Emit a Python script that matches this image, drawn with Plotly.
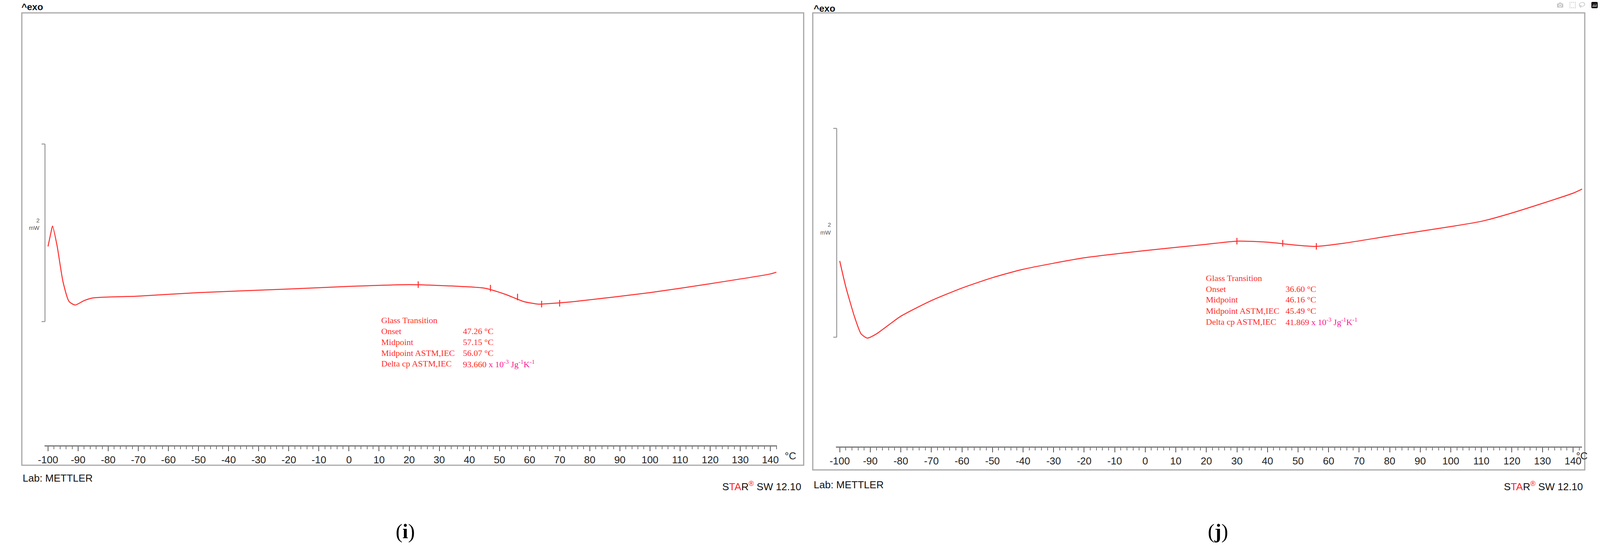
import plotly.graph_objects as go

W, H = 4193, 1422
RED = "#ff2a2a"
PINK = "#ff1493"

# Left panel (i) data: temperature (°C) vs heat flow (mW, arbitrary offset)
temp_i = [-100, -99, -98.5, -97, -95, -93, -91, -88, -85, -70, -50, -20, 0, 20, 30, 45, 52, 58, 63, 68, 75, 100, 120, 140, 142]
flow_i = [2.24, 2.40, 2.47, 2.25, 1.84, 1.62, 1.58, 1.63, 1.66, 1.68, 1.72, 1.76, 1.79, 1.81, 1.80, 1.77, 1.70, 1.62, 1.59, 1.60, 1.62, 1.72, 1.82, 1.93, 1.95]
mark_t_i = [23, 47, 56, 64, 70]
mark_f_i = [1.81, 1.77, 1.67, 1.59, 1.60]

# Right panel (j) data
temp_j = [-100, -98, -95, -93, -91, -88, -80, -70, -60, -50, -40, -20, 0, 20, 30, 40, 50, 56, 65, 80, 100, 110, 120, 140, 143]
flow_j = [1.78, 1.53, 1.23, 1.08, 1.04, 1.08, 1.25, 1.40, 1.52, 1.62, 1.70, 1.81, 1.88, 1.94, 1.97, 1.96, 1.93, 1.92, 1.95, 2.02, 2.11, 2.16, 2.24, 2.43, 2.47]
mark_t_j = [30, 45, 56]
mark_f_j = [1.97, 1.95, 1.92]

major_ticks = list(range(-100, 141, 10))

labels_i = ["Glass Transition", "Onset", "Midpoint", "Midpoint ASTM,IEC", "Delta cp ASTM,IEC"]
values_i = ["", "47.26 °C", "57.15 °C", "56.07 °C", "93.660"]
values_j = ["", "36.60 °C", "46.16 °C", "45.49 °C", "41.869"]

def px(x): return x / W
def py(y): return 1 - y / H

fig = go.Figure()
fig.add_trace(go.Scatter(x=temp_i, y=flow_i, mode="lines", line=dict(color=RED, width=2.5, shape="spline", smoothing=0.6), xaxis="x", yaxis="y", hoverinfo="skip"))
fig.add_trace(go.Scatter(x=mark_t_i, y=mark_f_i, mode="markers", marker=dict(symbol="line-ns", size=12, line=dict(color=RED, width=2.5)), xaxis="x", yaxis="y"))
fig.add_trace(go.Scatter(x=temp_j, y=flow_j, mode="lines", line=dict(color=RED, width=2.5, shape="spline", smoothing=0.6), xaxis="x2", yaxis="y2", hoverinfo="skip"))
fig.add_trace(go.Scatter(x=mark_t_j, y=mark_f_j, mode="markers", marker=dict(symbol="line-ns", size=12, line=dict(color=RED, width=2.5)), xaxis="x2", yaxis="y2"))

def xax(domain, rng, anchor):
    return dict(domain=domain, range=rng, anchor=anchor, showgrid=False, zeroline=False,
                showline=True, linecolor="#777", linewidth=3, ticks="outside", ticklen=12,
                tickwidth=2, tickcolor="#555", tickvals=major_ticks, ticktext=[str(v) for v in major_ticks],
                minor=dict(dtick=2, tick0=0, ticks="outside", ticklen=7, tickwidth=2, tickcolor="#777"),
                tickfont=dict(family="Liberation Sans Narrow, Liberation Sans, Arial", size=26, color="#222"),
                fixedrange=True)

l0, l1 = -101.2, 142.2
fig.update_layout(
    xaxis=xax([px(109 + (l0 + 100) * 7.93), px(109 + (l1 + 100) * 7.93)], [l0, l1], "y"),
    yaxis=dict(domain=[py(1141), py(33)], range=[0, 4.87], visible=False, fixedrange=True),
)
r0, r1 = -101.3, 143
fig.update_layout(
    xaxis2=xax([px(2195 + (r0 + 100) * 8.05), px(2195 + (r1 + 100) * 8.05)], [r0, r1], "y2"),
    yaxis2=dict(domain=[py(1144), py(33)], range=[0, 4.16], visible=False, fixedrange=True),
)

shapes = []
def box(x0, y0, x1, y1):
    shapes.append(dict(type="rect", xref="paper", yref="paper", x0=px(x0), x1=px(x1), y0=py(y1), y1=py(y0),
                       line=dict(color="#a8a8a8", width=3)))
def bracket(x, y0, y1):
    for seg in [(x, y0, x, y1), (x - 9, y0, x, y0), (x - 9, y1, x, y1)]:
        shapes.append(dict(type="line", xref="paper", yref="paper", x0=px(seg[0]), x1=px(seg[2]),
                           y0=py(seg[1]), y1=py(seg[3]), line=dict(color="#999", width=2.5)))
box(40, 33, 2100, 1192)
box(2124, 33, 4158, 1204)
bracket(101, 369, 824)
bracket(2187, 329, 864)

ann = []
def t(x, y, s, size=24, color="#111", family="Liberation Sans, Arial", xa="left", ya="middle"):
    ann.append(dict(x=px(x), y=py(y), xref="paper", yref="paper", text=s, showarrow=False,
                    xanchor=xa, yanchor=ya, font=dict(size=size, color=color, family=family)))

t(37, 18, "<b>^exo</b>", 24)
t(2124, 22, "<b>^exo</b>", 24)
t(88, 564, "2", 15, "#555", xa="right"); t(88, 584, "mW", 15, "#555", xa="right")
t(2174, 575, "2", 15, "#555", xa="right"); t(2174, 595, "mW", 15, "#555", xa="right")
t(2065, 1168, "°C", 26, "#222", "Liberation Sans Narrow, Liberation Sans", xa="center")
t(4150, 1168, "°C", 26, "#222", "Liberation Sans Narrow, Liberation Sans", xa="center")
t(40, 1225, "Lab: METTLER", 26)
t(2124, 1242, "Lab: METTLER", 26)
star = "S<span style='color:#ff2020'>TA</span>R<sup style='color:#ff2020'>®</sup> SW 12.10"
t(2095, 1245, star, 26, xa="right")
t(4155, 1245, star, 26, xa="right")
t(1023, 1362, "(<b>i</b>)", 52, "#000", "Liberation Serif, Times New Roman")
t(3163, 1362, "(<b>j</b>)", 52, "#000", "Liberation Serif, Times New Roman")

unit = "<span style='color:%s'> x 10<sup>-3</sup> Jg<sup>-1</sup>K<sup>-1</sup></span>" % PINK
def gt(x0, x1, y0, vals):
    for k, lab in enumerate(labels_i):
        y = y0 + k * 28
        t(x0, y, lab, 22, RED, "Liberation Serif, Times New Roman")
        if vals[k]:
            s = vals[k] + (unit if k == 4 else "")
            t(x1, y, s, 22, RED, "Liberation Serif, Times New Roman")
gt(985, 1200, 820, values_i)
gt(3158, 3368, 712, values_j)

fig.update_layout(autosize=True, margin=dict(l=0, r=0, t=0, b=0), showlegend=False,
                  plot_bgcolor="white", paper_bgcolor="white", shapes=shapes, annotations=ann)
fig.write_html("out.html", default_width="100vw", default_height="100vh", config={"responsive": True},
               post_script="document.body.style.margin='0';document.documentElement.style.overflow='hidden';"
                           "document.body.style.overflow='hidden';Plotly.Plots.resize(document.getElementById('{plot_id}'));")
